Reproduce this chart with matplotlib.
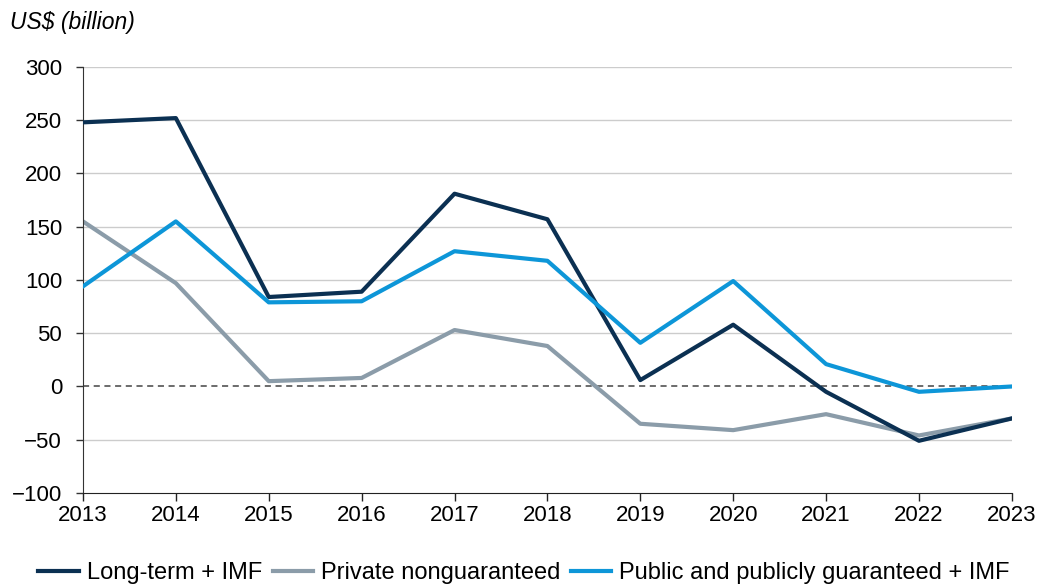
import matplotlib
matplotlib.use('Agg')
import matplotlib.pyplot as plt

# data
years = [2013, 2014, 2015, 2016, 2017, 2018, 2019, 2020, 2021, 2022, 2023]
long_term = [248, 252, 84, 89, 181, 157, 6, 58, -5, -51, -30]
private_ng = [155, 97, 5, 8, 53, 38, -35, -41, -26, -46, -30]
public_pg = [94, 155, 79, 80, 127, 118, 41, 99, 21, -5, 0]
yticks = [-100, -50, 0, 50, 100, 150, 200, 250, 300]

plt.rcParams['font.family'] = ['Liberation Sans', 'DejaVu Sans']

fig = plt.figure(figsize=(10.41, 5.88), dpi=100)
ax = fig.add_axes([0.0797, 0.1616, 0.8923, 0.7245])

# gridlines except zero, zero line dashed
for y in yticks[1:]:
    if y == 0:
        ax.axhline(y, color='#444444', lw=1.1, ls=(0, (4, 3)), zorder=1)
    else:
        ax.axhline(y, color='#cccccc', lw=1, zorder=1)

ax.plot(years, long_term, color='#0b3052', lw=3, label='Long-term + IMF', zorder=3)
ax.plot(years, private_ng, color='#8b9ca9', lw=3, label='Private nonguaranteed', zorder=2)
ax.plot(years, public_pg, color='#0d96d8', lw=3, label='Public and publicly guaranteed + IMF', zorder=3)

ax.set_xlim(2013, 2023)
ax.set_ylim(-100, 300)
ax.set_xticks(years)
ax.set_yticks(yticks)
ax.set_yticklabels([f'\u2212{abs(v)}' if v < 0 else str(v) for v in yticks])

for s in ['top', 'right']:
    ax.spines[s].set_visible(False)
ax.spines['left'].set_color('#333333')
ax.spines['bottom'].set_color('#222222')
ax.tick_params(axis='both', labelsize=16, colors='black')
ax.tick_params(axis='y', length=5, width=1, color='#333333', pad=10)
ax.tick_params(axis='x', length=6, width=1, color='#222222', pad=3)

fig.text(0.01, 0.962, 'US$ (billion)', fontsize=16.5, style='italic', va='center')

ax.legend(loc='center', bbox_to_anchor=(0.475, -0.188), ncol=3, frameon=False,
          fontsize=17, handlelength=1.7, handletextpad=0.35, columnspacing=0.45)

plt.savefig('out.png', dpi=100)
